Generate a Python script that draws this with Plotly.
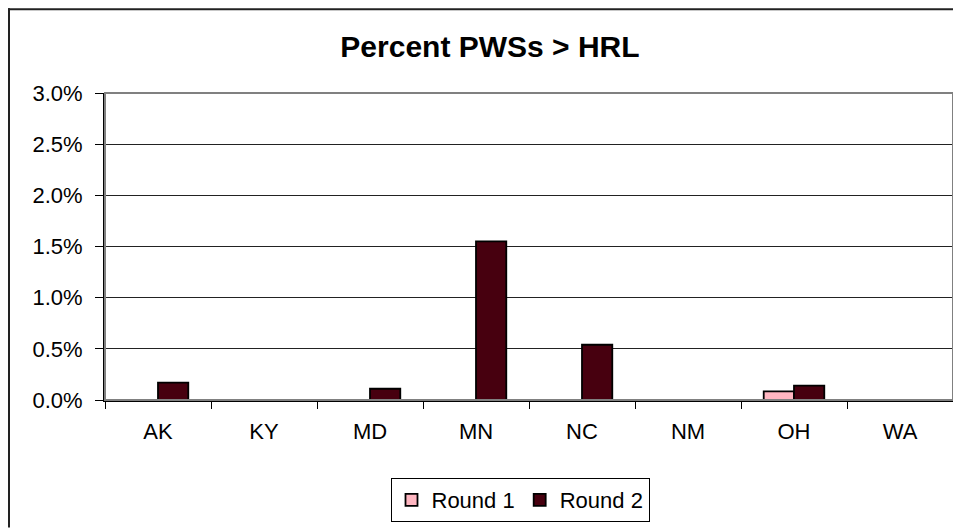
import plotly.graph_objects as go

states = ["AK", "KY", "MD", "MN", "NC", "NM", "OH", "WA"]
round1 = [0, 0, 0, 0, 0, 0, 0.00085, 0]
round2 = [0.0017, 0, 0.0011, 0.0155, 0.0054, 0, 0.0014, 0]
y_ticks = [0, 0.005, 0.01, 0.015, 0.02, 0.025, 0.03]

FONT = "Liberation Sans, Arial, sans-serif"

fig = go.Figure()
fig.add_trace(go.Bar(name="Round 1", x=states, y=round1,
                     marker=dict(color="#FFB6C1", line=dict(color="black", width=1.8))))
fig.add_trace(go.Bar(name="Round 2", x=states, y=round2,
                     marker=dict(color="#47000F", line=dict(color="black", width=1.8))))

# figure sits at (8, 8) inside the page
W, H = 953, 521
L, R, T, B = 97, 8, 85, 128
pw, ph = W - L - R, H - T - B

def px(x):
    return (x - L) / pw

def py(y):
    return (H - B - y) / ph

fig.update_layout(
    width=W, height=H,
    margin=dict(l=L, r=R, t=T, b=B),
    paper_bgcolor="white", plot_bgcolor="white",
    font=dict(family=FONT, size=22, color="black"),
    barmode="group", bargap=0.4286, bargroupgap=0,
    title=dict(text="<b>Percent PWSs > HRL</b>", font=dict(size=30, family=FONT),
               x=px(482), xref="paper", xanchor="center",
               y=1 - 38.5 / H, yref="container", yanchor="middle"),
    showlegend=True,
    legend=dict(orientation="h", x=px(512), xanchor="center", y=py(492), yanchor="middle",
                bordercolor="black", borderwidth=1, font=dict(size=22, family=FONT),
                itemwidth=30, bgcolor="white"),
    xaxis=dict(showline=True, linecolor="black", linewidth=2, ticks="outside",
               tickson="boundaries", ticklen=7, tickcolor="black", tickwidth=1,
               showgrid=False, ticklabelstandoff=11),
    yaxis=dict(range=[0, 0.03], tickvals=y_ticks, tickformat=".1%",
               showline=True, linecolor="black", linewidth=2, ticks="outside",
               ticklen=8, tickcolor="black", tickwidth=1,
               showgrid=True, gridcolor="#222222", gridwidth=1,
               zeroline=False, ticklabelstandoff=8),
    shapes=[
        dict(type="rect", xref="paper", yref="paper", x0=0, x1=1, y0=0, y1=1,
             line=dict(color="#808080", width=2), fillcolor="rgba(0,0,0,0)", layer="above"),
        # outer chart border (left and top edges)
        dict(type="line", xref="paper", yref="paper", x0=px(1), x1=px(1),
             y0=py(H), y1=py(0), line=dict(color="#222222", width=2)),
        dict(type="line", xref="paper", yref="paper", x0=px(0), x1=px(W),
             y0=py(1), y1=py(1), line=dict(color="#222222", width=2)),
    ],
)

fig.write_html("out.html")
